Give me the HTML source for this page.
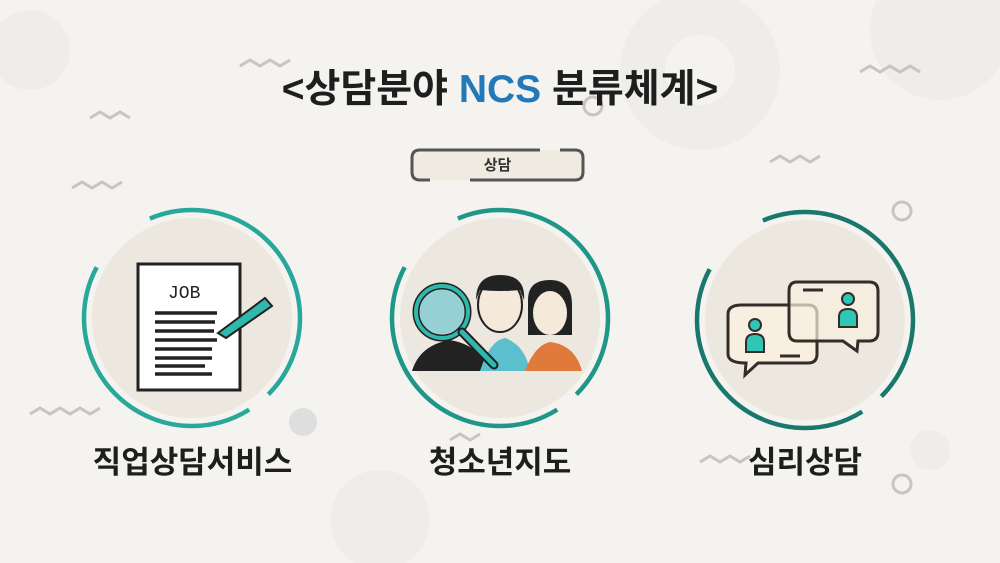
<!DOCTYPE html>
<html><head><meta charset="utf-8"><style>
body{margin:0;width:1000px;height:563px;overflow:hidden;background:#f4f3f0;font-family:"Liberation Sans","Noto Sans CJK KR",sans-serif;}
.t{position:absolute;font-weight:bold;color:#1e1e1e;text-align:center;}
</style></head><body>
<svg width="1000" height="563" style="position:absolute;left:0;top:0">
<g fill="#eeede9">
<circle cx="700" cy="70" r="80"/><circle cx="940" cy="30" r="70"/><circle cx="30" cy="50" r="40"/><circle cx="380" cy="520" r="50"/><circle cx="930" cy="450" r="20"/>
</g>
<circle cx="700" cy="70" r="35" fill="#f4f3f0"/>
<circle cx="303" cy="422" r="14" fill="#dedede"/>
<g fill="none" stroke="#c9c3c6" stroke-width="3">
<circle cx="593" cy="106" r="9"/><circle cx="902" cy="211" r="9"/><circle cx="902" cy="484" r="9"/>
<polyline points="240,66 250,60 260,66 270,60 280,66 290,60"/>
<polyline points="860,72 870,66 880,72 890,66 900,72 910,66 920,72"/>
<polyline points="72,188 82,182 92,188 102,182 112,188 122,182"/>
<polyline points="770,162 780,156 790,162 800,156 810,162 820,156"/>
<polyline points="30,414 40,408 50,414 60,408 70,414 80,408 90,414 100,408"/>
<polyline points="700,462 710,456 720,462 730,456 740,462 750,456"/>
<polyline points="90,118 100,112 110,118 120,112 130,118"/>
<polyline points="450,440 460,434 470,440 480,434"/>
</g>
<!-- badge -->
<rect x="412" y="150" width="171" height="30" rx="8" fill="#efebe0"/>
<path d="M430 180 H420 Q412 180 412 172 V158 Q412 150 420 150 H540 M560 150 H575 Q583 150 583 158 V172 Q583 180 575 180 H470" fill="none" stroke="#555" stroke-width="3"/>
<!-- circles -->
<g>
<circle cx="192" cy="318" r="100" fill="#ece8df"/>
<circle cx="500" cy="318" r="100" fill="#ece8df"/>
<circle cx="805" cy="320" r="100" fill="#ece8df"/>
<circle cx="192" cy="318" r="108" fill="none" stroke="#27a89a" stroke-width="4.5" stroke-dasharray="84.8 24.5 282.7 73.5 213"/>
<circle cx="500" cy="318" r="108" fill="none" stroke="#1f9688" stroke-width="4.5" stroke-dasharray="84.8 24.5 282.7 73.5 213"/>
<circle cx="805" cy="320" r="108" fill="none" stroke="#19786b" stroke-width="4.5" stroke-dasharray="84.8 24.5 282.7 73.5 213"/>
</g>
<!-- JOB doc -->
<rect x="138" y="264" width="102" height="126" fill="#fff" stroke="#222" stroke-width="3"/>
<text x="168" y="298" font-family="Liberation Mono" font-size="18" fill="#222">JOB</text>
<g stroke="#222" stroke-width="3.5">
<line x1="155" y1="313" x2="217" y2="313"/><line x1="155" y1="322" x2="215" y2="322"/><line x1="155" y1="331" x2="214" y2="331"/><line x1="155" y1="340" x2="217" y2="340"/><line x1="155" y1="349" x2="212" y2="349"/><line x1="155" y1="358" x2="212" y2="358"/><line x1="155" y1="366" x2="205" y2="366"/><line x1="155" y1="374" x2="212" y2="374"/>
</g>
<path d="M218 333 L265 298 L272 306 L226 338 Z" fill="#2fb8ac" stroke="#222" stroke-width="2"/>
<!-- people -->
<path d="M412 371 Q420 345 450 340 Q480 345 488 371 Z" fill="#222"/>
<path d="M480 371 Q490 340 505 338 Q525 345 530 371 Z" fill="#5bbfce"/>
<path d="M525 371 Q535 345 550 342 Q575 345 582 371 Z" fill="#e07a3a"/>
<ellipse cx="500" cy="305" rx="22" ry="27" fill="#f5ead9" stroke="#222" stroke-width="2"/>
<path d="M476 300 Q476 275 500 275 Q526 275 524 300 L520 290 Q500 292 480 290 Z" fill="#222"/>
<path d="M528 300 Q528 280 550 280 Q572 280 572 305 V335 H528 Z" fill="#222"/>
<ellipse cx="550" cy="313" rx="17" ry="22" fill="#f5ead9"/>
<circle cx="442" cy="310" r="24" fill="#5bbfce" opacity="0.6"/>
<circle cx="442" cy="312" r="26" fill="none" stroke="#222" stroke-width="7"/>
<circle cx="442" cy="312" r="26" fill="none" stroke="#2fb8ac" stroke-width="4"/>
<line x1="462" y1="332" x2="494" y2="365" stroke="#222" stroke-width="9" stroke-linecap="round"/>
<line x1="462" y1="332" x2="494" y2="365" stroke="#2fb8ac" stroke-width="5" stroke-linecap="round"/>
<!-- chat -->
<path d="M742 305 H808 Q817 305 817 314 V354 Q817 363 808 363 H758 L745 375 L746 363 Q728 363 728 354 V314 Q728 305 742 305Z" fill="#f9efe0" stroke="#332d2a" stroke-width="3"/>
<path d="M797 282 H869 Q878 282 878 291 V332 Q878 341 869 341 H858 L857 351 L843 341 H797 Q789 341 789 332 V291 Q789 282 797 282Z" fill="#f9efe0" fill-opacity="0.7" stroke="#332d2a" stroke-width="3"/>
<g fill="#2fc6b6" stroke="#332d2a" stroke-width="2"><circle cx="755" cy="325" r="6"/><path d="M746 352 V342 Q746 334 755 334 Q764 334 764 342 V352Z"/><circle cx="848" cy="299" r="6"/><path d="M839 327 V317 Q839 309 848 309 Q857 309 857 317 V327Z"/></g>
<g stroke="#332d2a" stroke-width="3"><line x1="780" y1="356" x2="800" y2="356"/><line x1="803" y1="290" x2="823" y2="290"/></g>
</svg>
<div class="t" style="left:0;width:1000px;top:58px;font-size:39px;">&lt;상담분야 <span style="color:#2378b8">NCS</span> 분류체계&gt;</div>
<div class="t" style="left:412px;width:171px;top:154px;font-size:15px;color:#333">상담</div>
<div class="t" style="left:40px;width:305px;top:437px;font-size:31px;">직업상담서비스</div>
<div class="t" style="left:350px;width:300px;top:437px;font-size:31px;">청소년지도</div>
<div class="t" style="left:655px;width:300px;top:437px;font-size:31px;">심리상담</div>
</body></html>
